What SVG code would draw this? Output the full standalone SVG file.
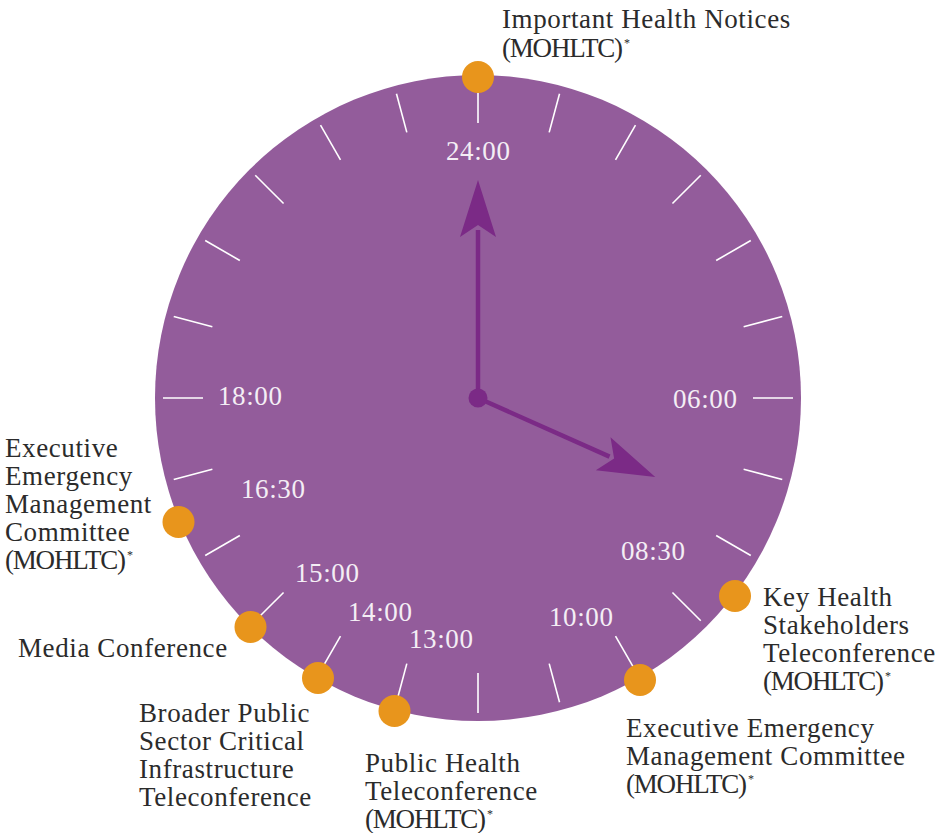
<svg xmlns="http://www.w3.org/2000/svg" xmlns:xlink="http://www.w3.org/1999/xlink" width="950" height="833" viewBox="0 0 950 833">
<defs>
<style>
.face{fill:#935C9B}
.tick{stroke:#FFFFFF;stroke-width:1.6}
.dot{fill:#E8951C}
.hand{stroke:#7B2A86;stroke-width:4.5;fill:none}
.head{fill:#7B2A86}
.time{font-size:27px;letter-spacing:0.6px;fill:#F4EEF5}
.lbl{font-size:27px;letter-spacing:0.6px;fill:#2B2B2B}
.org{letter-spacing:-1.2px}
.sup{font-size:12px;letter-spacing:0}
</style>
<line id="tk" class="tick" x1="478" y1="83" x2="478" y2="123"/>
</defs>
<rect width="950" height="833" fill="#FFFFFF"/>
<g id="clock-face">
<circle class="face" cx="478" cy="398" r="323"/>
</g>
<g id="ticks">
<use xlink:href="#tk"/>
<use xlink:href="#tk" transform="rotate(15 478 398)"/>
<use xlink:href="#tk" transform="rotate(30 478 398)"/>
<use xlink:href="#tk" transform="rotate(45 478 398)"/>
<use xlink:href="#tk" transform="rotate(60 478 398)"/>
<use xlink:href="#tk" transform="rotate(75 478 398)"/>
<use xlink:href="#tk" transform="rotate(90 478 398)"/>
<use xlink:href="#tk" transform="rotate(105 478 398)"/>
<use xlink:href="#tk" transform="rotate(120 478 398)"/>
<use xlink:href="#tk" transform="rotate(135 478 398)"/>
<use xlink:href="#tk" transform="rotate(150 478 398)"/>
<use xlink:href="#tk" transform="rotate(165 478 398)"/>
<use xlink:href="#tk" transform="rotate(180 478 398)"/>
<use xlink:href="#tk" transform="rotate(195 478 398)"/>
<use xlink:href="#tk" transform="rotate(210 478 398)"/>
<use xlink:href="#tk" transform="rotate(225 478 398)"/>
<use xlink:href="#tk" transform="rotate(240 478 398)"/>
<use xlink:href="#tk" transform="rotate(255 478 398)"/>
<use xlink:href="#tk" transform="rotate(270 478 398)"/>
<use xlink:href="#tk" transform="rotate(285 478 398)"/>
<use xlink:href="#tk" transform="rotate(300 478 398)"/>
<use xlink:href="#tk" transform="rotate(315 478 398)"/>
<use xlink:href="#tk" transform="rotate(330 478 398)"/>
<use xlink:href="#tk" transform="rotate(345 478 398)"/>
</g>
<g font-family="'Liberation Serif', Tinos, 'Times New Roman', 'DejaVu Serif', serif">
<g id="time-labels">
<text class="time" x="446" y="160">24:00</text>
<text class="time" x="673" y="408">06:00</text>
<text class="time" x="218" y="405">18:00</text>
<text class="time" x="241" y="498">16:30</text>
<text class="time" x="295" y="582">15:00</text>
<text class="time" x="348" y="621">14:00</text>
<text class="time" x="409" y="648">13:00</text>
<text class="time" x="549" y="626">10:00</text>
<text class="time" x="621" y="560">08:30</text>
</g>
<g id="hands">
<g id="minute-hand">
<line class="hand" x1="478" y1="398" x2="478" y2="230"/>
<path class="head" d="M478 180 L496 237 L478 225 L460 237 Z"/>
</g>
<g id="hour-hand" transform="rotate(114 478 398)">
<line class="hand" x1="478" y1="398" x2="478" y2="254"/>
<path class="head" d="M478 204 L496 261 L478 249 L460 261 Z"/>
</g>
<circle class="head" cx="478" cy="398" r="9.5"/>
</g>
<g id="node-important-health-notices">
<circle class="dot" cx="478" cy="77" r="16"/>
<text class="lbl" x="502" y="28">Important Health Notices</text>
<text class="lbl org" x="502" y="57">(MOHLTC)<tspan class="sup" dx="2" dy="-10">*</tspan></text>
</g>
<g id="node-key-health-stakeholders">
<circle class="dot" cx="735" cy="596" r="16"/>
<text class="lbl" x="763" y="606">Key Health</text>
<text class="lbl" x="763" y="634">Stakeholders</text>
<text class="lbl" x="763" y="662">Teleconference</text>
<text class="lbl org" x="763" y="690">(MOHLTC)<tspan class="sup" dx="2" dy="-10">*</tspan></text>
</g>
<g id="node-eemc-10">
<circle class="dot" cx="640" cy="680" r="16"/>
<text class="lbl" x="626" y="737">Executive Emergency</text>
<text class="lbl" x="626" y="765">Management Committee</text>
<text class="lbl org" x="626" y="793">(MOHLTC)<tspan class="sup" dx="2" dy="-10">*</tspan></text>
</g>
<g id="node-public-health">
<circle class="dot" cx="394.5" cy="711" r="16"/>
<text class="lbl" x="365" y="772">Public Health</text>
<text class="lbl" x="365" y="800">Teleconference</text>
<text class="lbl org" x="365" y="828">(MOHLTC)<tspan class="sup" dx="2" dy="-10">*</tspan></text>
</g>
<g id="node-broader-public-sector">
<circle class="dot" cx="318" cy="678" r="16"/>
<text class="lbl" x="139" y="722">Broader Public</text>
<text class="lbl" x="139" y="750">Sector Critical</text>
<text class="lbl" x="139" y="778">Infrastructure</text>
<text class="lbl" x="139" y="806">Teleconference</text>
</g>
<g id="node-media-conference">
<circle class="dot" cx="250.5" cy="627" r="16"/>
<text class="lbl" x="18" y="657">Media Conference</text>
</g>
<g id="node-eemc-1630">
<circle class="dot" cx="178.5" cy="522" r="16"/>
<text class="lbl" x="5" y="457">Executive</text>
<text class="lbl" x="5" y="485">Emergency</text>
<text class="lbl" x="5" y="513">Management</text>
<text class="lbl" x="5" y="541">Committee</text>
<text class="lbl org" x="5" y="569">(MOHLTC)<tspan class="sup" dx="2" dy="-10">*</tspan></text>
</g>
</g>
</svg>
